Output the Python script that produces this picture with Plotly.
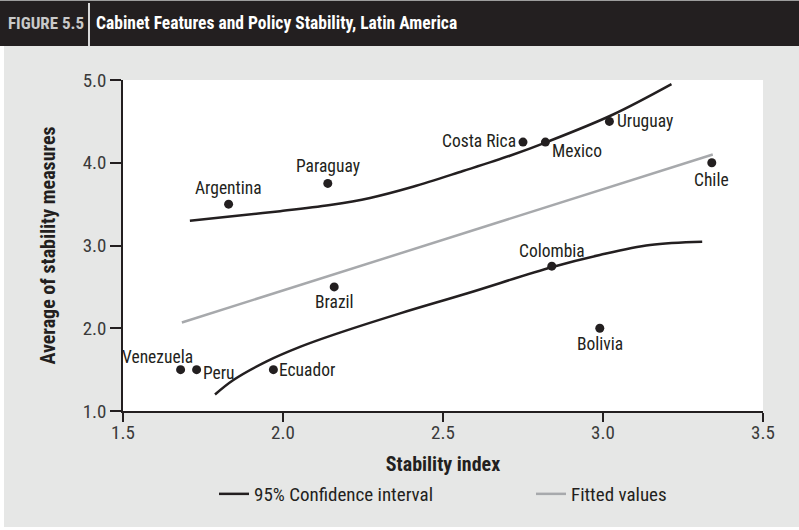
import plotly.graph_objects as go

# ---- data ----
countries = ["Argentina", "Paraguay", "Brazil", "Venezuela", "Peru", "Ecuador",
             "Costa Rica", "Mexico", "Uruguay", "Chile", "Colombia", "Bolivia"]
stability_index = [1.83, 2.14, 2.16, 1.68, 1.73, 1.97, 2.75, 2.82, 3.02, 3.34, 2.84, 2.99]
stability_avg = [3.5, 3.75, 2.5, 1.5, 1.5, 1.5, 4.25, 4.25, 4.5, 4.0, 2.75, 2.0]

fit_x = [1.684, 3.343]
fit_y = [2.07, 4.10]

ci_upper_x = [1.709, 1.834, 1.991, 2.147, 2.272, 2.406, 2.5625, 2.709, 2.824, 3.03, 3.214]
ci_upper_y = [3.30, 3.35, 3.415, 3.49, 3.575, 3.71, 3.90, 4.085, 4.25, 4.58, 4.95]

ci_lower_x = [1.7875, 1.845, 1.949, 2.053, 2.157, 2.366, 2.574, 2.842, 2.99, 3.147, 3.31]
ci_lower_y = [1.20, 1.375, 1.60, 1.775, 1.92, 2.18, 2.42, 2.74, 2.885, 3.006, 3.046]

x_ticks = [1.5, 2.0, 2.5, 3.0, 3.5]
y_ticks = [1.0, 2.0, 3.0, 4.0, 5.0]

# label placement (style only): (xanchor, yanchor, xshift, yshift)
label_place = [
    ("center", "bottom", 0, 4), ("center", "bottom", 0, 5), ("center", "top", 0, -3),
    ("right", "bottom", 14, 1), ("left", "middle", 4, -3), ("left", "middle", 4, 0),
    ("right", "middle", -5, 1), ("left", "middle", 5, -9), ("left", "middle", 6, 0),
    ("center", "top", 0, -5), ("center", "bottom", 0, 3), ("center", "top", 0, -4),
]

DARK = "#231f20"
GRAY = "#a7a9ac"
PANEL = "#e6e7e6"
FONT = "Liberation Sans Narrow, Arial Narrow, Roboto Condensed, sans-serif"

L, R, T, B = 123, 763, 80, 411
W, H = 799, 530

def px(xp):
    return (xp - L) / (R - L)

def py(yp):
    return (B - yp) / (B - T)

fig = go.Figure()

fig.add_trace(go.Scatter(x=ci_upper_x, y=ci_upper_y, mode="lines", name="95% Confidence interval",
                         line=dict(color=DARK, width=2.5, shape="spline", smoothing=1.0),
                         legend="legend"))
fig.add_trace(go.Scatter(x=ci_lower_x, y=ci_lower_y, mode="lines", name="95% Confidence interval",
                         line=dict(color=DARK, width=2.5, shape="spline", smoothing=1.0),
                         showlegend=False))
fig.add_trace(go.Scatter(x=fit_x, y=fit_y, mode="lines", name="Fitted values",
                         line=dict(color=GRAY, width=2.5), legend="legend2"))
fig.add_trace(go.Scatter(x=stability_index, y=stability_avg, mode="markers", showlegend=False,
                         marker=dict(color=DARK, size=9), text=countries, hoverinfo="text"))

annotations = []
for c, xv, yv, (xa, ya, xs, ys) in zip(countries, stability_index, stability_avg, label_place):
    annotations.append(dict(x=xv, y=yv, xref="x", yref="y", text=c, showarrow=False,
                            xanchor=xa, yanchor=ya, xshift=xs, yshift=ys,
                            font=dict(family=FONT, size=17.5, color=DARK)))

# header texts
annotations.append(dict(x=px(6), y=py(23), xref="paper", yref="paper", text="<b>FIGURE 5.5</b>",
                        showarrow=False, xanchor="left", yanchor="middle",
                        font=dict(family=FONT, size=17, color="#c9c9c9")))
annotations.append(dict(x=px(94), y=py(23), xref="paper", yref="paper",
                        text="<b>Cabinet Features and Policy Stability, Latin America</b>",
                        showarrow=False, xanchor="left", yanchor="middle",
                        font=dict(family=FONT, size=17.5, color="white")))

shapes = [
    dict(type="rect", xref="paper", yref="paper", x0=px(-1), x1=px(W + 1), y0=py(1), y1=py(-1),
         fillcolor="#9d9d9d", line=dict(width=0), layer="above"),
    dict(type="rect", xref="paper", yref="paper", x0=px(-1), x1=px(W + 1), y0=py(46), y1=py(1),
         fillcolor=DARK, line=dict(width=0), layer="above"),
    dict(type="line", xref="paper", yref="paper", x0=px(89), x1=px(89), y0=py(46), y1=py(3),
         line=dict(color="#d8d8d8", width=2), layer="above"),
    dict(type="rect", xref="paper", yref="paper", x0=px(-1), x1=px(4), y0=py(531), y1=py(46),
         fillcolor="white", line=dict(width=0), layer="above"),
    dict(type="rect", xref="paper", yref="paper", x0=px(-1), x1=px(W + 1), y0=py(531), y1=py(527),
         fillcolor="white", line=dict(width=0), layer="above"),
]

axis_common = dict(showgrid=False, zeroline=False, showline=True, linecolor=DARK, linewidth=1.5,
                   ticks="outside", tickcolor=DARK, tickwidth=1.5,
                   tickfont=dict(family=FONT, size=19, color="#3a3a3a"))

legend_common = dict(orientation="h", yanchor="middle", bgcolor="rgba(0,0,0,0)",
                     font=dict(family=FONT, size=19, color=DARK), itemwidth=30)

fig.update_layout(
    width=W, height=H,
    margin=dict(l=L, r=W - R, t=T, b=H - B),
    paper_bgcolor=PANEL, plot_bgcolor="white",
    xaxis=dict(range=[1.5, 3.5], tickvals=x_ticks, ticktext=[f"{v:.1f}" for v in x_ticks],
               ticklen=9, ticklabelstandoff=-6,
               title=dict(text="<b>Stability index</b>", standoff=14,
                          font=dict(family=FONT, size=20, color=DARK)),
               **axis_common),
    yaxis=dict(range=[1.0, 5.0], tickvals=y_ticks, ticktext=[f"{v:.1f}" for v in y_ticks],
               ticklen=11, title=dict(text="<b>Average of stability measures</b>", standoff=22,
                                      font=dict(family=FONT, size=20, color=DARK)),
               **axis_common),
    legend=dict(x=px(214), xanchor="left", y=py(494), **legend_common),
    legend2=dict(x=px(531), xanchor="left", y=py(494), **legend_common),
    annotations=annotations,
    shapes=shapes,
    showlegend=True,
)

fig.write_html("out.html", config={"displayModeBar": False},
               post_script="document.body.style.margin='0';")
